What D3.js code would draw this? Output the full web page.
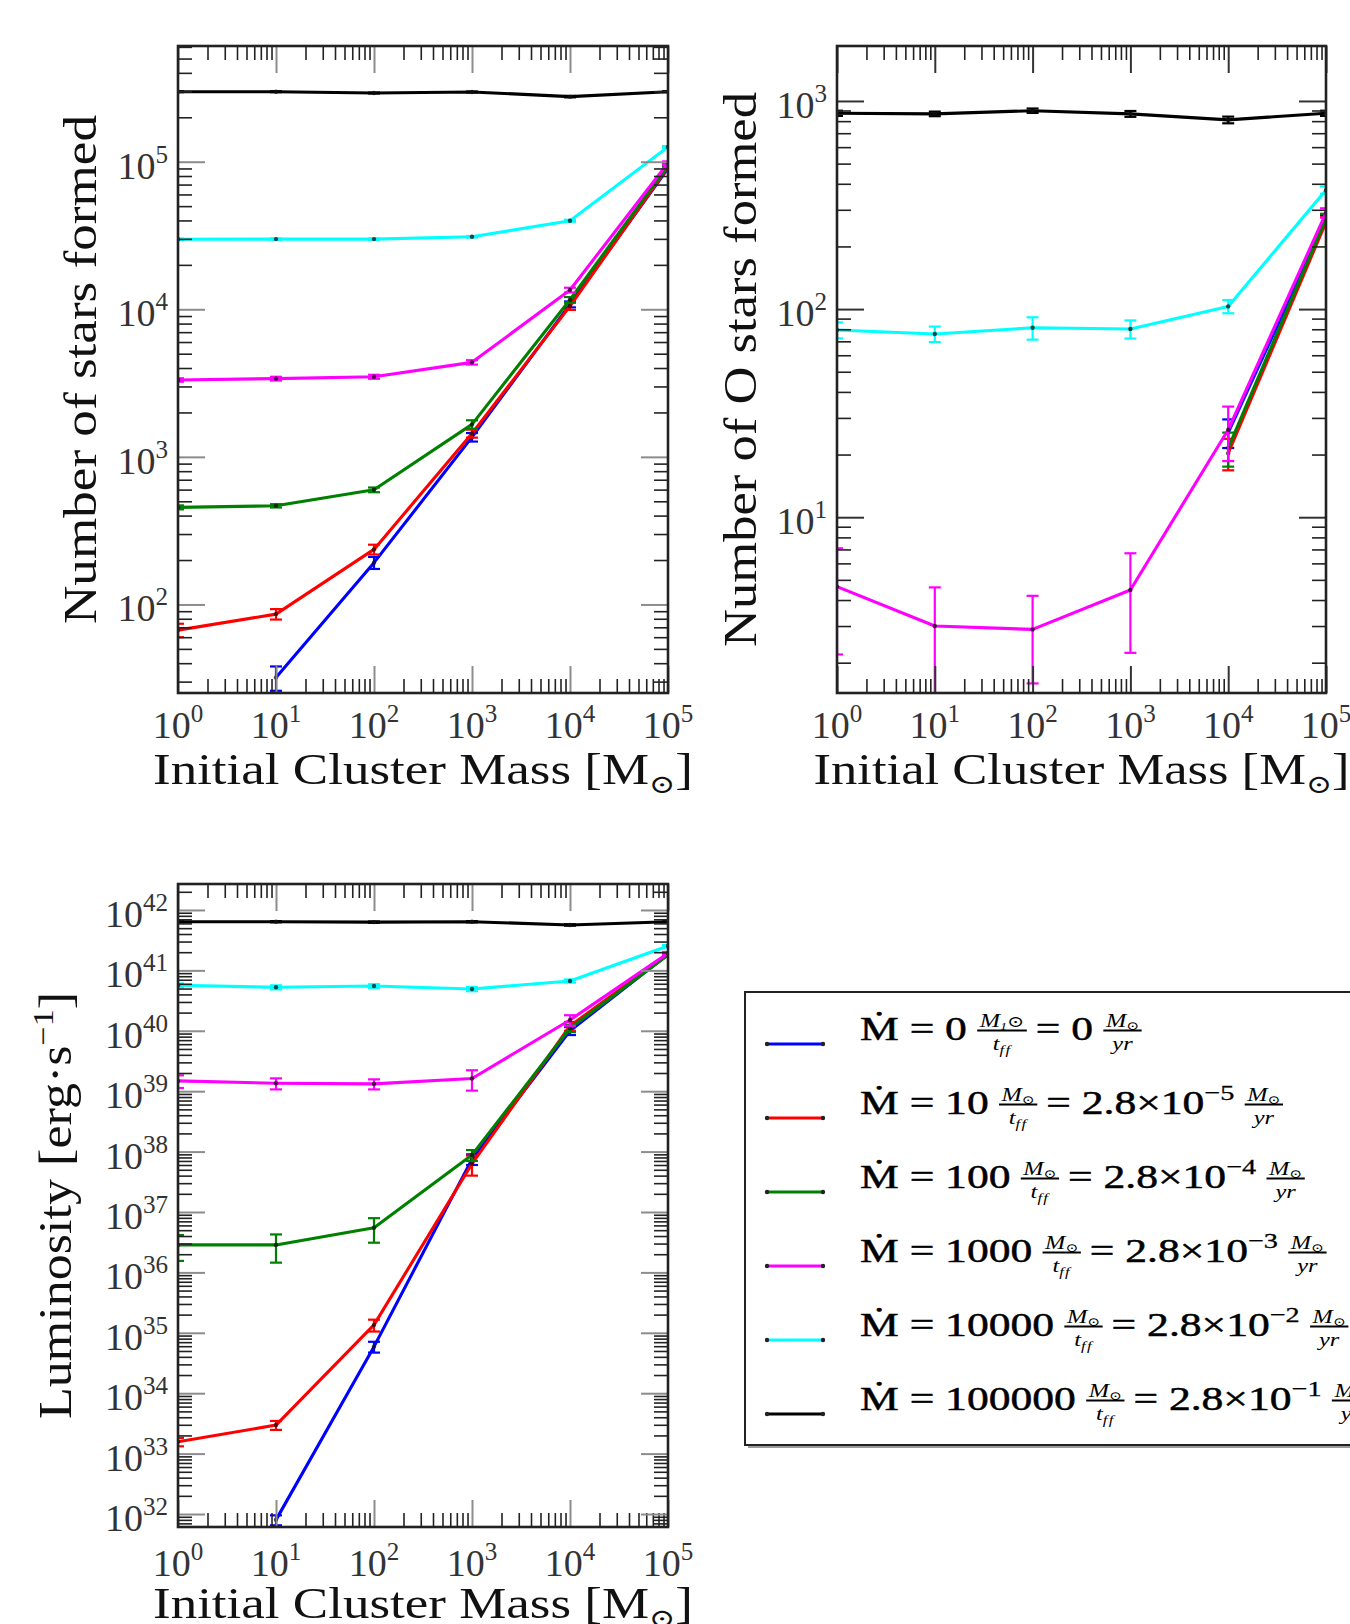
<!DOCTYPE html>
<html><head><meta charset="utf-8">
<script src="https://cdn.jsdelivr.net/npm/d3@7"></script>
<style>body{margin:0;background:#fff} svg{display:block} text{font-variant-ligatures:none}</style>
</head><body>
<svg id="chart" width="1350" height="1624"></svg>
<script>
// ---------------- DATA ----------------
const massValues = [1e0, 1e1, 1e2, 1e3, 1e4, 1e5];
const seriesColors = ["#0000ff", "#ff0000", "#008000", "#ff00ff", "#00ffff", "#000000"];

// Panel 1: Number of stars formed
const starsBlue    = [null, 32, 192, 1360, 10800, 90000];
const starsBlueErr = [null, 6, 18, 90, 500, 2500];
const starsRed     = [67, 86, 236, 1440, 10500, 92000];
const starsRedErr  = [7, 7, 18, 90, 600, 2500];
const starsGreen   = [455, 466, 598, 1660, 11600, 94000];
const starsGreenErr= [14, 12, 22, 110, 500, 2500];
const starsMagenta = [3320, 3390, 3490, 4370, 13500, 98000];
const starsMagentaErr = [90, 100, 110, 150, 500, 2500];
const starsCyan    = [29800, 29900, 29900, 31000, 39800, 126000];
const starsCyanErr = [300, 300, 300, 350, 600, 1500];
const starsBlack   = [298000, 298000, 292000, 297000, 276000, 298000];
const starsBlackErr= [2000, 2000, 2000, 2000, 3000, 2000];

// Panel 2: Number of O stars formed
const oBlue     = [null, null, null, null, 25.5, 268];
const oBlueErr  = [null, null, null, null, 4, 15];
const oRed      = [null, null, null, null, 20.3, 262];
const oRedErr   = [null, null, null, null, 3.5, 15];
const oGreen    = [null, null, null, null, 21.5, 272];
const oGreenErr = [null, null, null, null, 4, 15];
const oMagenta  = [4.64, 3.0, 2.89, 4.47, 26.3, 290];
const oMagentaErr = [2.45, 1.6, 1.3, 2.24, 7.7, 15];
const oCyan     = [79.3, 75.9, 81.3, 80.2, 103, 373];
const oCyanErr  = [7, 6.5, 10, 8, 7.5, 15];
const oBlack    = [873, 867, 898, 867, 811, 873];
const oBlackErr = [25, 22, 22, 28, 30, 25];

// Panel 3: Luminosity [erg s^-1]
const lumBlue     = [null, 8e31, 5.9e34, 7.5e37, 1.0e40, 1.85e41];
const lumBlueErr  = [null, 1.5e31, 1.2e34, 1.5e37, 1.5e39, 1e40];
const lumRed      = [1.57e33, 2.97e33, 1.35e35, 6.3e37, 1.2e40, 1.85e41];
const lumRedErr   = [2.5e32, 5e32, 3e34, 2.3e37, 2e39, 1e40];
const lumGreen    = [2.85e36, 2.85e36, 5.5e36, 8.8e37, 1.1e40, 1.8e41];
const lumGreenErr = [1.3e36, 1.4e36, 2.4e36, 1.8e37, 1.5e39, 1e40];
const lumMagenta  = [1.48e39, 1.35e39, 1.32e39, 1.62e39, 1.51e40, 1.92e41];
const lumMagentaErr = [3.5e38, 2.8e38, 2.5e38, 6e38, 3e39, 1e40];
const lumCyan     = [5.66e40, 5.25e40, 5.5e40, 4.92e40, 6.67e40, 2.53e41];
const lumCyanErr  = [4e39, 4e39, 4e39, 4e39, 4e39, 1e40];
const lumBlack    = [6.4e41, 6.4e41, 6.3e41, 6.4e41, 5.65e41, 6.4e41];
const lumBlackErr = [1.5e40, 1.5e40, 1.5e40, 1.5e40, 1.5e40, 1.5e40];

// Legend text pieces
const legendRates   = ["0", "10", "100", "1000", "10000", "100000"];
const legendYrMant  = ["0", "2.8×10", "2.8×10", "2.8×10", "2.8×10", "2.8×10"];
const legendYrExp   = ["", "−5", "−4", "−3", "−2", "−1"];

// ---------------- DRAW ----------------
const FONT = "'Liberation Serif','DejaVu Serif',serif";
const svg = d3.select("#chart");
svg.append("rect").attr("width", 1350).attr("height", 1624).attr("fill", "#fff");

const panels = [
  { id: "p1", left: 178, right: 668, top: 46, bottom: 693,
    yDomain: [Math.pow(10, 1.4), Math.pow(10, 5.784)],
    values: [starsBlue, starsRed, starsGreen, starsMagenta, starsCyan, starsBlack],
    errors: [starsBlueErr, starsRedErr, starsGreenErr, starsMagentaErr, starsCyanErr, starsBlackErr],
    yTitle: "Number of stars formed", yTitleX: 96, yTitleLen: 509,
    xLabelBase: 738, xTitleBase: 784, xTitleLen: 540, majorColor: "#8c8c8c" },
  { id: "p2", left: 837, right: 1326, top: 46, bottom: 693,
    yDomain: [1.43, 1837],
    values: [oBlue, oRed, oGreen, oMagenta, oCyan, oBlack],
    errors: [oBlueErr, oRedErr, oGreenErr, oMagentaErr, oCyanErr, oBlackErr],
    yTitle: "Number of O stars formed", yTitleX: 756, yTitleLen: 555,
    xLabelBase: 738, xTitleBase: 784, xTitleLen: 536, majorColor: "#333" },
  { id: "p3", left: 178, right: 668, top: 884, bottom: 1527,
    yDomain: [Math.pow(10, 31.785), Math.pow(10, 42.43)],
    values: [lumBlue, lumRed, lumGreen, lumMagenta, lumCyan, lumBlack],
    errors: [lumBlueErr, lumRedErr, lumGreenErr, lumMagentaErr, lumCyanErr, lumBlackErr],
    yTitle: "Luminosity [erg·s", yTitleSup: "−1", yTitleEnd: "]", yTitleX: 71, yTitleLen: 427,
    xLabelBase: 1576, xTitleBase: 1618, xTitleLen: 540, majorColor: "#8c8c8c" }
];

function decadesIn(dom) {
  const out = [];
  for (let e = Math.floor(Math.log10(dom[0]) - 1e-9); e <= Math.ceil(Math.log10(dom[1]) + 1e-9); e++) {
    const d = Math.pow(10, e);
    if (d >= dom[0] * 0.9999 && d <= dom[1] * 1.0001) out.push(d);
  }
  return out;
}
function minorsIn(dom) {
  const out = [];
  for (let e = Math.floor(Math.log10(dom[0])) ; e <= Math.ceil(Math.log10(dom[1])); e++) {
    for (let k = 2; k <= 9; k++) {
      const v = k * Math.pow(10, e);
      if (v > dom[0] && v < dom[1]) out.push(v);
    }
  }
  return out;
}

function addPow(textSel, exp, fs) {
  textSel.append("tspan").text("10");
  textSel.append("tspan").attr("font-size", fs * 0.66).attr("dy", -fs * 0.42).text(exp);
}

panels.forEach(p => {
  const g = svg.append("g");
  const x = d3.scaleLog().domain([1, 1e5]).range([p.left, p.right]);
  const y = d3.scaleLog().domain(p.yDomain).range([p.bottom, p.top]);

  const clipId = "clip-" + p.id;
  svg.append("clipPath").attr("id", clipId).append("rect")
    .attr("x", p.left).attr("y", p.top).attr("width", p.right - p.left).attr("height", p.bottom - p.top);

  const plot = g.append("g").attr("clip-path", `url(#${clipId})`);
  const lowClamp = p.yDomain[0] * 0.3;

  p.values.forEach((vals, si) => {
    const color = seriesColors[si];
    const errs = p.errors[si];
    const pts = massValues.map((m, i) => ({ m, v: vals[i], e: errs[i] })).filter(d => d.v != null);
    const line = d3.line().x(d => x(d.m)).y(d => y(d.v));
    plot.append("path").attr("d", line(pts)).attr("fill", "none")
      .attr("stroke", color).attr("stroke-width", 3.1).attr("stroke-linejoin", "round");
    pts.forEach(d => {
      if (!d.e) return;
      const hi = d.v + d.e;
      const lo = Math.max(d.v - d.e, lowClamp);
      const cx = x(d.m);
      plot.append("line").attr("x1", cx).attr("x2", cx).attr("y1", y(lo)).attr("y2", y(hi))
        .attr("stroke", color).attr("stroke-width", 2.2);
      [hi, lo].forEach(v => {
        plot.append("line").attr("x1", cx - 6).attr("x2", cx + 6).attr("y1", y(v)).attr("y2", y(v))
          .attr("stroke", color).attr("stroke-width", 2.2);
      });
    });
    plot.selectAll(null).data(pts).enter().append("circle")
      .attr("cx", d => x(d.m)).attr("cy", d => y(d.v)).attr("r", 2.2)
      .attr("fill", "#111").attr("opacity", 0.75);
  });

  // ticks (inward, on all four sides)
  const xMaj = decadesIn([1, 1e5]), xMin = minorsIn([1, 1e5]);
  const yMaj = decadesIn(p.yDomain), yMin = minorsIn(p.yDomain);
  const tickSets = [
    [d3.axisBottom(x), `translate(0,${p.bottom})`, xMaj, xMin],
    [d3.axisTop(x), `translate(0,${p.top})`, xMaj, xMin],
    [d3.axisLeft(y), `translate(${p.left},0)`, yMaj, yMin],
    [d3.axisRight(y), `translate(${p.right},0)`, yMaj, yMin]
  ];
  tickSets.forEach(([axis, tr, maj, min]) => {
    const ga = g.append("g").attr("transform", tr)
      .call(axis.tickValues(min).tickSize(-14).tickFormat(() => ""));
    ga.select(".domain").remove();
    ga.selectAll("line").attr("stroke", "#222").attr("stroke-width", 1.6);
    const gb = g.append("g").attr("transform", tr)
      .call(axis.tickValues(maj).tickSize(-27).tickFormat(() => ""));
    gb.select(".domain").remove();
    gb.selectAll("line").attr("stroke", p.majorColor).attr("stroke-width", 2);
  });

  g.append("rect").attr("x", p.left).attr("y", p.top)
    .attr("width", p.right - p.left).attr("height", p.bottom - p.top)
    .attr("fill", "none").attr("stroke", "#222").attr("stroke-width", 2.6);

  // tick labels
  xMaj.forEach(d => {
    const t = g.append("text").attr("x", x(d)).attr("y", p.xLabelBase)
      .attr("text-anchor", "middle").attr("font-family", FONT).attr("font-size", 38).attr("fill", "#333");
    addPow(t, String(Math.round(Math.log10(d))), 38);
  });
  yMaj.forEach(d => {
    const t = g.append("text").attr("x", p.left - 10).attr("y", y(d) + 17)
      .attr("text-anchor", "end").attr("font-family", FONT).attr("font-size", 38).attr("fill", "#333");
    addPow(t, String(Math.round(Math.log10(d))), 38);
  });

  // x title
  const xt = g.append("text").attr("x", (p.left + p.right) / 2).attr("y", p.xTitleBase)
    .attr("text-anchor", "middle").attr("font-family", FONT).attr("font-size", 44).attr("fill", "#111")
    .attr("textLength", p.xTitleLen).attr("lengthAdjust", "spacingAndGlyphs");
  xt.append("tspan").text("Initial Cluster Mass [M");
  xt.append("tspan").attr("font-size", 26).attr("dy", 9).text("⊙");
  xt.append("tspan").attr("dy", -9).text("]");

  // y title
  const yt = g.append("text")
    .attr("transform", `translate(${p.yTitleX},${(p.top + p.bottom) / 2}) rotate(-90)`)
    .attr("text-anchor", "middle").attr("font-family", FONT).attr("font-size", 46).attr("fill", "#111")
    .attr("textLength", p.yTitleLen).attr("lengthAdjust", "spacingAndGlyphs");
  yt.append("tspan").text(p.yTitle);
  if (p.yTitleSup) {
    yt.append("tspan").attr("font-size", 30).attr("dy", -18).text(p.yTitleSup);
    yt.append("tspan").attr("dy", 18).text(p.yTitleEnd);
  }
});

// ---------------- LEGEND ----------------
const lg = svg.append("g");
lg.append("rect").attr("x", 748).attr("y", 995).attr("width", 700).attr("height", 453).attr("fill", "#9a9a9a");
lg.append("rect").attr("x", 745).attr("y", 992).attr("width", 700).attr("height", 453)
  .attr("fill", "#fff").attr("stroke", "#222").attr("stroke-width", 2);

function plain(g, x, str, fs) {
  const t = g.append("text").attr("x", x).attr("y", 0).attr("font-family", FONT).attr("font-size", fs)
    .attr("fill", "#000").attr("stroke", "#000").attr("stroke-width", 0.5).text(str);
  return t.node().getComputedTextLength();
}
function frac(g, x, numFn, denFn) {
  const num = g.append("text").attr("y", -13.5).attr("font-family", FONT).attr("font-size", 19)
    .attr("font-style", "italic").attr("fill", "#000");
  numFn(num);
  const den = g.append("text").attr("y", 10).attr("font-family", FONT).attr("font-size", 19)
    .attr("font-style", "italic").attr("fill", "#000");
  denFn(den);
  const wN = num.node().getComputedTextLength(), wD = den.node().getComputedTextLength();
  const w = Math.max(wN, wD) + 4;
  num.attr("x", x + (w - wN) / 2);
  den.attr("x", x + (w - wD) / 2);
  g.append("line").attr("x1", x).attr("x2", x + w).attr("y1", -9.5).attr("y2", -9.5)
    .attr("stroke", "#000").attr("stroke-width", 1.8);
  return w;
}
const numMsun = t => { t.append("tspan").text("M"); t.append("tspan").attr("font-size", 12).attr("dy", 3).attr("font-style", "normal").text("⊙"); };
const numM1sun = t => { t.append("tspan").text("M"); t.append("tspan").attr("font-size", 11).attr("dy", 3).text("1"); t.append("tspan").attr("font-size", 16).attr("dy", -3).attr("font-style", "normal").text("⊙"); };
const denTff = t => { t.append("tspan").text("t"); t.append("tspan").attr("font-size", 13).attr("dy", 4).attr("letter-spacing", 1).text("ff"); };
const denYr = t => { t.append("tspan").text("yr"); };

const LFS = 34;
const rows = [];
legendRates.forEach((rate, i) => {
  const base = 1040 + 74 * i;
  const hy = base + 4;
  lg.append("line").attr("x1", 767).attr("x2", 823).attr("y1", hy).attr("y2", hy)
    .attr("stroke", seriesColors[i]).attr("stroke-width", 3);
  [767, 823].forEach(cx => lg.append("circle").attr("cx", cx).attr("cy", hy).attr("r", 2.2).attr("fill", "#222"));

  const rg = lg.append("g").attr("data-base", base);
  let cx = 0;
  cx += plain(rg, cx, "Ṁ = " + rate, LFS) + 8;
  cx += frac(rg, cx, i === 0 ? numM1sun : numMsun, denTff) + 7;
  const t = rg.append("text").attr("x", cx).attr("y", 0).attr("font-family", FONT).attr("font-size", LFS)
    .attr("fill", "#000").attr("stroke", "#000").attr("stroke-width", 0.5);
  t.append("tspan").text("= " + legendYrMant[i]);
  if (legendYrExp[i]) t.append("tspan").attr("font-size", 22).attr("dy", -14).attr("stroke-width", 0.3).text(legendYrExp[i]);
  cx += t.node().getComputedTextLength() + 8;
  cx += frac(rg, cx, numMsun, denYr);
  rows.push(rg);
});
const refW = rows[1].node().getBBox().width;
const sx = 423 / refW;
rows.forEach(rg => rg.attr("transform", `translate(860,${rg.attr("data-base")}) scale(${sx},1)`));
</script>
</body></html>
